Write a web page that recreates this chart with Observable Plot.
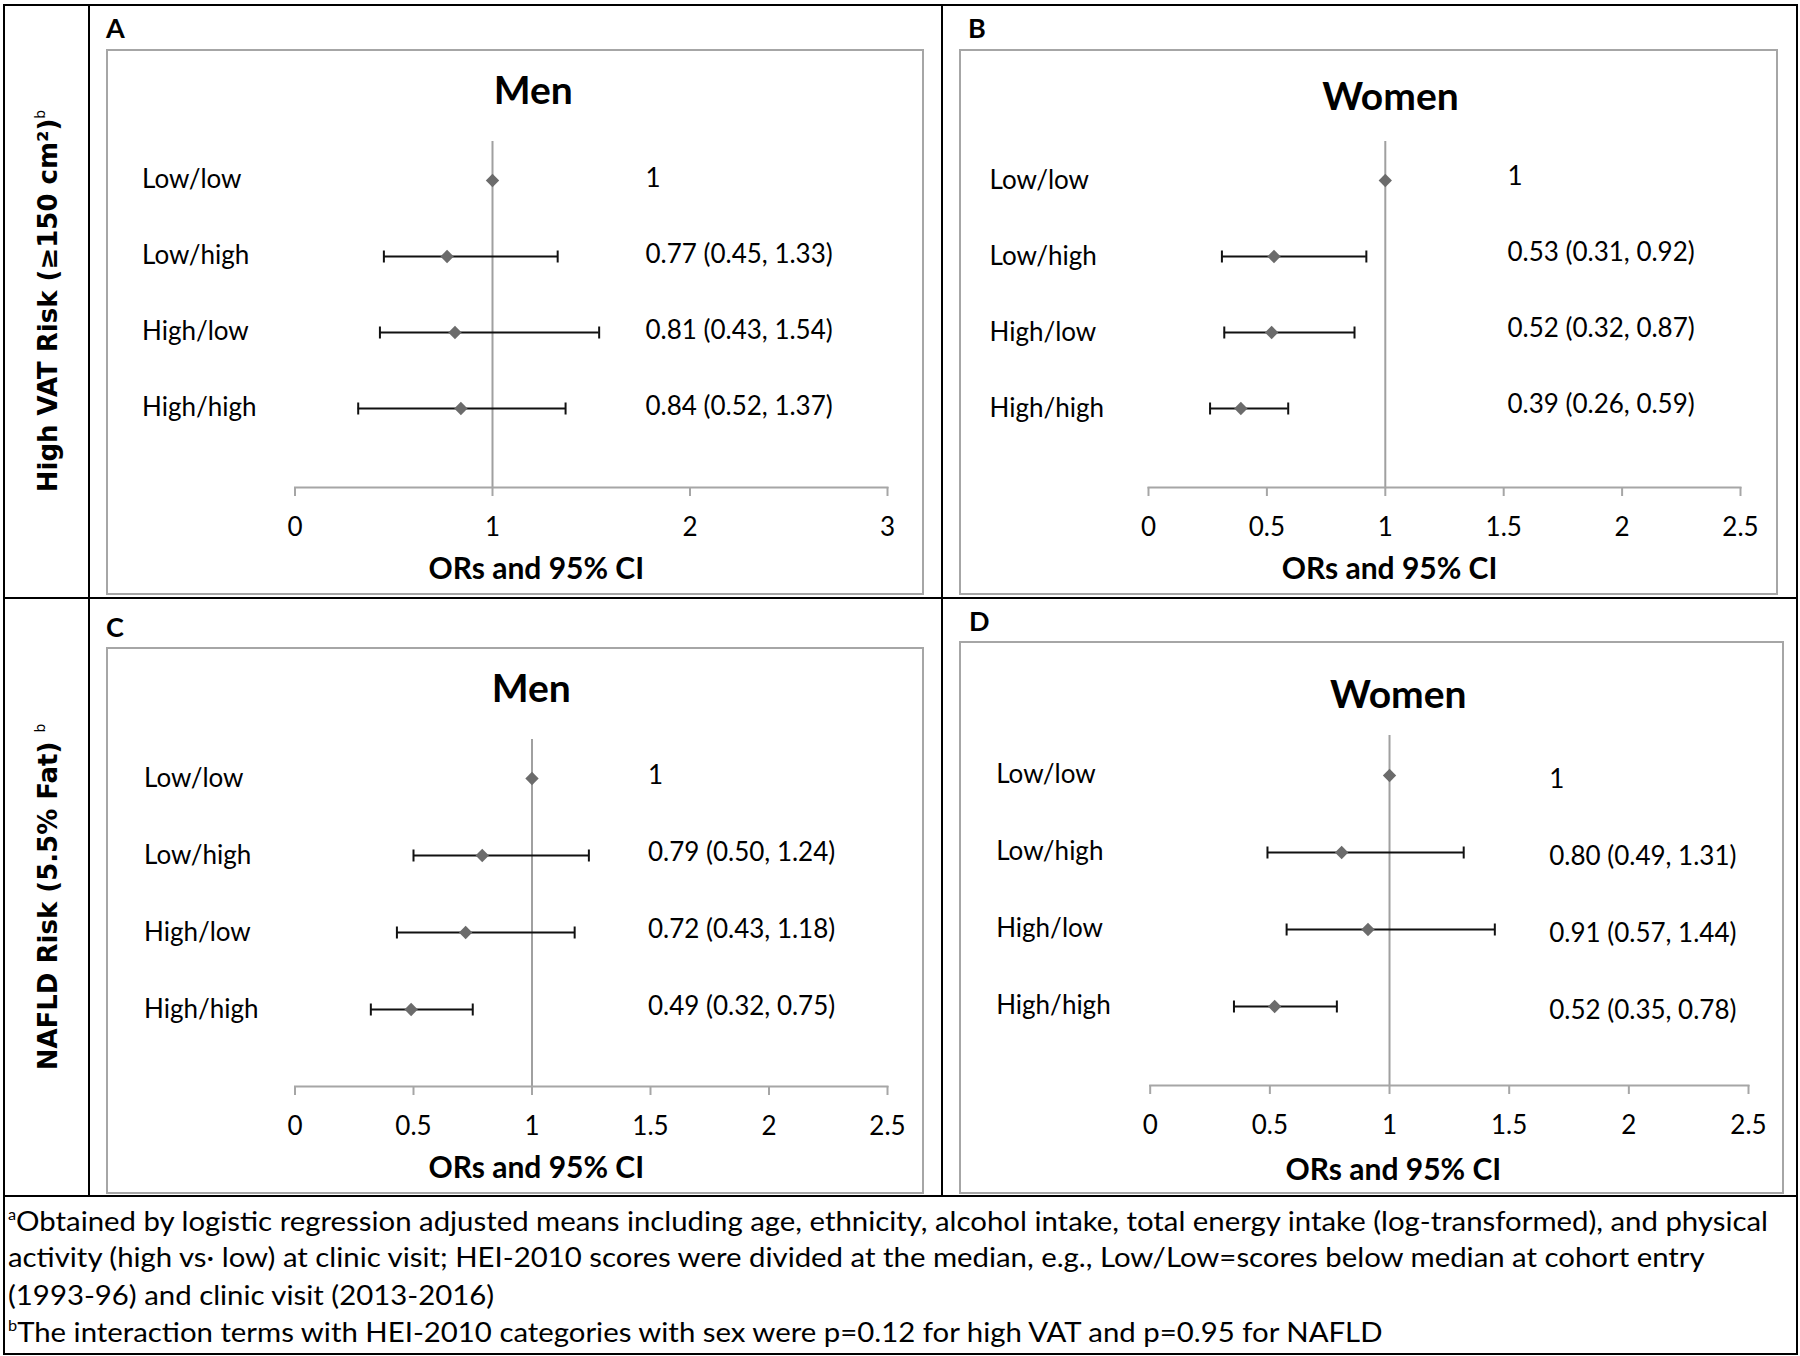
<!DOCTYPE html>
<html><head><meta charset="utf-8">
<script src="https://cdn.jsdelivr.net/npm/d3@7"></script>
<script src="https://cdn.jsdelivr.net/npm/@observablehq/plot@0.6"></script>
<style>
body{margin:0;background:#fff;}
#fig{position:relative;width:1800px;height:1356px;background:#fff;font-family:Lato,"Open Sans",sans-serif;color:#000;overflow:hidden}
.ln{position:absolute;background:#000}
.box{position:absolute;border:2px solid #a6a6a6;box-sizing:border-box}
.letter{position:absolute;font-weight:700;font-size:27px;line-height:1}
.rowtitle{position:absolute;font-family:"DejaVu Sans",sans-serif;font-weight:700;font-size:26px;line-height:1;white-space:nowrap;transform:translate(-50%,-50%) rotate(-90deg)}
.rowtitle sup{font-weight:400;font-size:14px;vertical-align:top;position:relative;top:-2px}
.panel{position:absolute}
.foot{position:absolute;left:8px;font-size:27px;line-height:1;white-space:nowrap;transform:scaleX(1.087);transform-origin:0 50%}
.foot sup{font-size:15px;vertical-align:top}
</style></head>
<body>
<div id="fig"></div>
<script>
// ---------- data ----------
const categories = ["Low/low", "Low/high", "High/low", "High/high"];
const panelLetters = ["A", "B", "C", "D"];
const panelTitles = ["Men", "Women", "Men", "Women"];
const rowTitles = ["High VAT Risk (≥150 cm²)", "NAFLD Risk (5.5% Fat) "];
const rowTitleSup = "b";
const axisTitle = "ORs and 95% CI";

const vatMenOR = [1, 0.77, 0.81, 0.84];
const vatMenLo = [null, 0.45, 0.43, 0.32];
const vatMenHi = [null, 1.33, 1.54, 1.37];
const vatMenText = ["1", "0.77 (0.45, 1.33)", "0.81 (0.43, 1.54)", "0.84 (0.52, 1.37)"];

const vatWomenOR = [1, 0.53, 0.52, 0.39];
const vatWomenLo = [null, 0.31, 0.32, 0.26];
const vatWomenHi = [null, 0.92, 0.87, 0.59];
const vatWomenText = ["1", "0.53 (0.31, 0.92)", "0.52 (0.32, 0.87)", "0.39 (0.26, 0.59)"];

const nafldMenOR = [1, 0.79, 0.72, 0.49];
const nafldMenLo = [null, 0.50, 0.43, 0.32];
const nafldMenHi = [null, 1.24, 1.18, 0.75];
const nafldMenText = ["1", "0.79 (0.50, 1.24)", "0.72 (0.43, 1.18)", "0.49 (0.32, 0.75)"];

const nafldWomenOR = [1, 0.80, 0.91, 0.52];
const nafldWomenLo = [null, 0.49, 0.57, 0.35];
const nafldWomenHi = [null, 1.31, 1.44, 0.78];
const nafldWomenText = ["1", "0.80 (0.49, 1.31)", "0.91 (0.57, 1.44)", "0.52 (0.35, 0.78)"];

const ticksA = [0, 1, 2, 3];
const ticksHalf = [0, 0.5, 1, 1.5, 2, 2.5];
const xMaxA = 3;
const xMaxHalf = 2.5;

const footnoteSups = ["a", "", "", "b"];
const footnoteLines = [
  "Obtained by logistic regression adjusted means including age, ethnicity, alcohol intake, total energy intake (log-transformed), and physical",
  "activity (high vs· low) at clinic visit; HEI-2010 scores were divided at the median, e.g., Low/Low=scores below median at cohort entry",
  "(1993-96) and clinic visit (2013-2016)",
  "The interaction terms with HEI-2010 categories with sex were p=0.12 for high VAT and p=0.95 for NAFLD"
];

// ---------- layout ----------
const fig = document.getElementById("fig");
function line(l, t, w, h) {
  const d = document.createElement("div");
  d.className = "ln";
  Object.assign(d.style, {left: l + "px", top: t + "px", width: w + "px", height: h + "px"});
  fig.appendChild(d);
}
// table borders
line(3, 4, 1795, 2);
line(3, 1353, 1795, 2);
line(3, 4, 2, 1351);
line(1796, 4, 2, 1351);
line(88, 4, 2, 1193);
line(941, 4, 2, 1193);
line(3, 597, 1795, 2);
line(3, 1195, 1795, 2);

const series = [
  [vatMenOR, vatMenLo, vatMenHi, vatMenText, ticksA, xMaxA],
  [vatWomenOR, vatWomenLo, vatWomenHi, vatWomenText, ticksHalf, xMaxHalf],
  [nafldMenOR, nafldMenLo, nafldMenHi, nafldMenText, ticksHalf, xMaxHalf],
  [nafldWomenOR, nafldWomenLo, nafldWomenHi, nafldWomenText, ticksHalf, xMaxHalf]
];

const layouts = [
  {left:106, top:49, width:818, height:546, mL:188.5, mR:37, mT:92, mB:108, tDx:-58, tDy:-38, aDx:-55, aDy:91, lDx:-153, lDy:-1, vDx:350.5, vDy:-2, letX:106, letTop:14},
  {left:959, top:49, width:819, height:546, mL:189, mR:38, mT:92, mB:108, tDx:-54, tDy:-32, aDx:-55, aDy:91, lDx:-159, lDy:0, vDx:359, vDy:-4, letX:968, letTop:14},
  {left:106, top:647, width:818, height:547, mL:188.5, mR:37, mT:92, mB:108, tDx:-60, tDy:-38, aDx:-55, aDy:91, lDx:-151, lDy:0, vDx:353, vDy:-3, letX:106, letTop:613},
  {left:959, top:641, width:825, height:553, mL:190.7, mR:36, mT:94, mB:109, tDx:-51, tDy:-28, aDx:-56, aDy:94, lDx:-154, lDy:-1, vDx:399, vDy:4, letX:969, letTop:607}
];

const grayRef = "#a0a0a0";
const grayAxis = "#a6a6a6";
const diamondFill = "#6b6b6b";
// vertical whisker cap drawn as a custom symbol
const capSymbol = {draw(ctx) { ctx.moveTo(0, -6); ctx.lineTo(0, 6); }};

series.forEach(([or, lo, hi, txt, ticks, xmax], i) => {
  const L = layouts[i];
  const rows = categories.map((c, k) => ({cat: c, or: or[k], lo: lo[k], hi: hi[k], text: txt[k]}));
  const bars = rows.filter(r => r.lo != null);

  const box = document.createElement("div");
  box.className = "box";
  Object.assign(box.style, {left: L.left + "px", top: L.top + "px", width: L.width + "px", height: L.height + "px"});
  fig.appendChild(box);

  const letter = document.createElement("div");
  letter.className = "letter";
  letter.textContent = panelLetters[i];
  Object.assign(letter.style, {left: L.letX + "px", top: L.letTop + "px"});
  fig.appendChild(letter);

  const chart = Plot.plot({
    width: L.width, height: L.height,
    marginLeft: L.mL, marginRight: L.mR, marginTop: L.mT, marginBottom: L.mB,
    style: {fontFamily: "Lato, 'Open Sans', sans-serif", fontSize: "26px", background: "transparent", overflow: "visible", color: "#000"},
    x: {domain: [0, xmax]},
    y: {type: "point", domain: categories, padding: 0.75, align: 1/3, axis: null},
    marks: [
      Plot.ruleX([1], {stroke: grayRef, strokeWidth: 2}),
      Plot.frame({anchor: "bottom", stroke: grayAxis, strokeWidth: 2}),
      Plot.axisX({ticks, tickSize: 9, tickPadding: 21, stroke: grayAxis, strokeWidth: 2, fontSize: 26, label: null, tickFormat: d => String(d)}),
      Plot.ruleY(bars, {y: "cat", x1: "lo", x2: "hi", stroke: "#111", strokeWidth: 2}),
      Plot.dot(bars, {x: "lo", y: "cat", symbol: capSymbol, stroke: "#111", strokeWidth: 2, fill: "none"}),
      Plot.dot(bars, {x: "hi", y: "cat", symbol: capSymbol, stroke: "#111", strokeWidth: 2, fill: "none"}),
      Plot.dot(rows, {x: "or", y: "cat", symbol: "diamond2", r: 6, fill: diamondFill, stroke: "none"}),
      Plot.text(rows, {y: "cat", text: "cat", frameAnchor: "left", textAnchor: "start", dx: L.lDx, dy: L.lDy, fontSize: 26}),
      Plot.text(rows, {y: "cat", text: "text", frameAnchor: "left", textAnchor: "start", dx: L.vDx, dy: L.vDy, fontSize: 26}),
      Plot.text([panelTitles[i]], {text: d => d, frameAnchor: "top", lineAnchor: "bottom", dx: L.tDx, dy: L.tDy, fontSize: 39, fontWeight: "bold"}),
      Plot.text([axisTitle], {text: d => d, frameAnchor: "bottom", lineAnchor: "bottom", dx: L.aDx, dy: L.aDy, fontSize: 30, fontWeight: "bold"})
    ]
  });
  const wrap = document.createElement("div");
  wrap.className = "panel";
  Object.assign(wrap.style, {left: L.left + "px", top: L.top + "px"});
  wrap.appendChild(chart);
  fig.appendChild(wrap);
});

// row titles (rotated)
const rowCenters = [[48, 301], [48, 897]];
rowTitles.forEach((t, i) => {
  const d = document.createElement("div");
  d.className = "rowtitle";
  d.textContent = t;
  const s = document.createElement("sup");
  s.textContent = rowTitleSup;
  d.appendChild(s);
  Object.assign(d.style, {left: rowCenters[i][0] + "px", top: rowCenters[i][1] + "px"});
  fig.appendChild(d);
});

// footnotes
const footTops = [1207, 1243, 1281, 1318];
footnoteLines.forEach((t, i) => {
  const d = document.createElement("div");
  d.className = "foot";
  d.style.top = footTops[i] + "px";
  if (footnoteSups[i]) {
    const s = document.createElement("sup");
    s.textContent = footnoteSups[i];
    d.appendChild(s);
  }
  d.appendChild(document.createTextNode(t));
  fig.appendChild(d);
});
</script>
</body></html>
